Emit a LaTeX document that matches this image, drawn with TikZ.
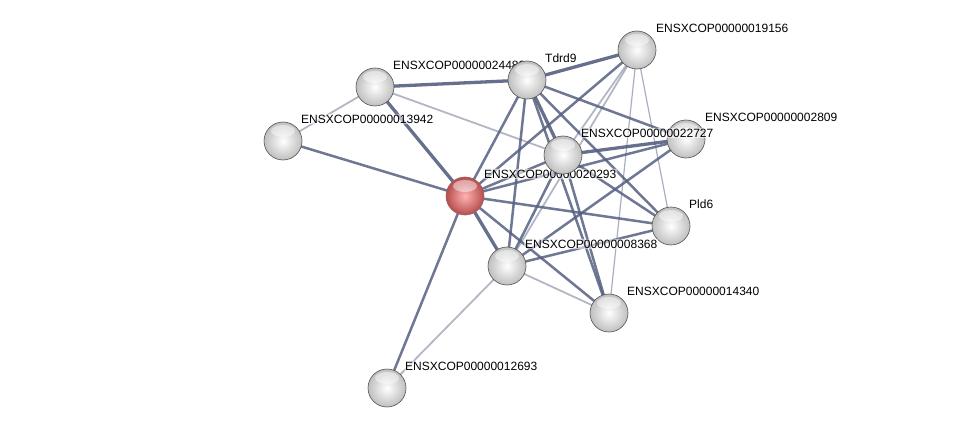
\documentclass[tikz,border=0pt]{standalone}
\usepackage{fontspec}
\setmainfont{Liberation Sans}
\begin{document}
\begin{tikzpicture}[x=1pt,y=-1pt,
  edge/.style={draw=edgec,line width=2.5pt,opacity=0.85},
  thick edge/.style={draw=edgec,line width=3.3pt,opacity=0.9},
  light edge/.style={draw=edgec,line width=1.8pt,opacity=0.45},
  thin edge/.style={draw=edgec,line width=1.2pt,opacity=0.5},
  hl/.style={path picture={\fill[white,opacity=0.45] ([yshift=-9pt]path picture bounding box.north) ellipse (12pt and 6pt);}},
  ball/.style={circle,minimum size=38pt,inner sep=0pt,draw=gray!65!black,line width=0.6pt,
    shading=radial,inner color=white,outer color=gray!50,hl},
  redball/.style={circle,minimum size=38pt,inner sep=0pt,draw=red!30!black!60,line width=0.6pt,
    shading=radial,inner color=red!30,outer color=red!60!black!70,hl},
  lab/.style={anchor=west,font=\fontsize{12}{14}\selectfont,inner sep=1pt,fill=white,fill opacity=0.55,text opacity=1,rounded corners=2pt}
]
\definecolor{edgec}{RGB}{85,95,128}
\useasboundingbox (0,0) rectangle (975,433);
% coordinates of centres
\coordinate (pC) at (465,196);
\coordinate (pA) at (375,87);
\coordinate (pB) at (283,141);
\coordinate (pT) at (527,80);
\coordinate (pS) at (637,50);
\coordinate (pK) at (563,155);
\coordinate (pE) at (686,139);
\coordinate (pP) at (671,226);
\coordinate (pH) at (507,266);
\coordinate (pF) at (609,313);
\coordinate (pL) at (387,388);
% edges
\draw[thick edge] (pC) -- (pA);
\draw[thick edge] (pC) -- (pH);
\draw[thick edge] (pT) -- (pA);
\draw[thick edge] (pT) -- (pS);
\draw[thick edge] (pK) -- (pE);
\draw[thick edge] (pT) -- (pK);
\draw[edge] (pC) -- (pB);
\draw[edge] (pC) -- (pT);
\draw[edge] (pC) -- (pS);
\draw[edge] (pC) -- (pK);
\draw[edge] (pC) -- (pE);
\draw[edge] (pC) -- (pP);
\draw[edge] (pC) -- (pF);
\draw[edge] (pC) -- (pL);
\draw[edge] (pT) -- (pH);
\draw[edge] (pT) -- (pF);
\draw[edge] (pT) -- (pE);
\draw[edge] (pT) -- (pP);
\draw[edge] (pK) -- (pP);
\draw[edge] (pK) -- (pH);
\draw[edge] (pK) -- (pF);
\draw[edge] (pE) -- (pH);
\draw[edge] (pP) -- (pH);
\draw[light edge] (pS) -- (pK);
\draw[light edge] (pS) -- (pH);
\draw[thin edge] (pS) -- (pF);
\draw[thin edge] (pS) -- (pP);
\draw[light edge] (pA) -- (pB);
\draw[light edge] (pA) -- (pK);
\draw[light edge] (pH) -- (pF);
\draw[light edge] (pH) -- (pL);
% nodes with labels, in drawing order
\node[redball] (C) at (pC) {};
\node[lab] (tC) at (483,174) {ENSXCOP00000020293};
\node[ball] (A) at (pA) {};
\node[lab] (tA) at (392,65) {ENSXCOP00000024489};
\node[ball] (T) at (pT) {};
\node[lab] (tT) at (544,58) {Tdrd9};
\node[ball] (B) at (pB) {};
\node[lab] (tB) at (300,119) {ENSXCOP00000013942};
\node[ball] (S) at (pS) {};
\node[lab] (tS) at (655,28) {ENSXCOP00000019156};
\node[ball] (E) at (pE) {};
\node[lab] (tE) at (704,117) {ENSXCOP00000002809};
\node[ball] (K) at (pK) {};
\node[lab] (tK) at (580,133) {ENSXCOP00000022727};
\node[ball] (P) at (pP) {};
\node[lab] (tP) at (688,204) {Pld6};
\node[ball] (H) at (pH) {};
\node[lab] (tH) at (524,244) {ENSXCOP00000008368};
\node[ball] (F) at (pF) {};
\node[lab] (tF) at (626,291) {ENSXCOP00000014340};
\node[ball] (L) at (pL) {};
\node[lab] (tL) at (404,366) {ENSXCOP00000012693};
\end{tikzpicture}
\end{document}
